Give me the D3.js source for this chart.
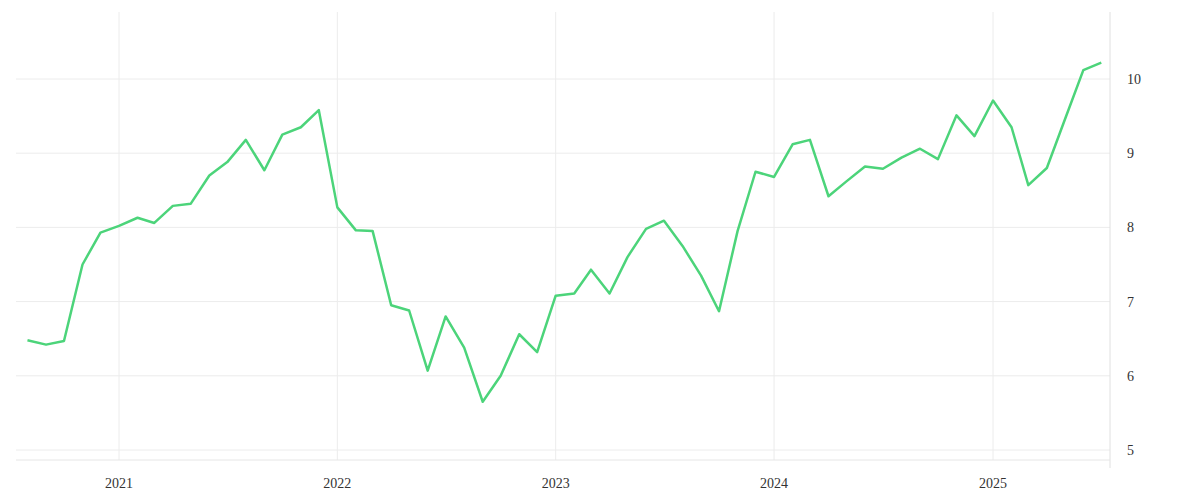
<!DOCTYPE html><html><head><meta charset="utf-8">
<script src="https://cdn.jsdelivr.net/npm/d3@7"></script>
<style>body{margin:0;background:#fff}svg{display:block}</style></head><body>
<svg id="c" width="1200" height="500"></svg>
<script>
const startMonth = "2020-08";
const values = [6.48,6.42,6.47,7.5,7.93,8.02,8.13,8.06,8.29,8.32,8.7,8.88,9.18,8.77,9.25,9.35,9.58,8.27,7.96,7.95,6.95,6.88,6.07,6.8,6.38,5.65,6.0,6.56,6.32,7.08,7.11,7.43,7.11,7.6,7.98,8.09,7.75,7.35,6.87,7.95,8.75,8.68,9.12,9.18,8.42,8.62,8.82,8.79,8.94,9.06,8.92,9.51,9.23,9.71,9.35,8.57,8.8,9.45,10.12,10.22];
const yTicks = [5,6,7,8,9,10];
const xTickYears = [2021,2022,2023,2024,2025];

const svg = d3.select("#c");
const dates = values.map((v,i)=>new Date(2020,7+i,1));
const x = d3.scaleTime().domain([new Date(2021,0,1),new Date(2025,0,1)]).range([119,993]);
const y = d3.scaleLinear().domain([5,10]).range([450,79]);
const plotTop=12, plotBottom=460, axisX=1110;
const g = svg.append("g");
g.selectAll(".hg").data(yTicks).join("line").attr("x1",16).attr("x2",axisX).attr("y1",d=>y(d)).attr("y2",d=>y(d)).attr("stroke","#ececec");
g.selectAll(".vg").data(xTickYears).join("line").attr("x1",d=>x(new Date(d,0,1))).attr("x2",d=>x(new Date(d,0,1))).attr("y1",plotTop).attr("y2",plotBottom).attr("stroke","#ececec");
g.append("line").attr("x1",axisX).attr("x2",axisX).attr("y1",plotTop).attr("y2",468).attr("stroke","#e0e0e0");
g.append("line").attr("x1",16).attr("x2",axisX).attr("y1",plotBottom).attr("y2",plotBottom).attr("stroke","#e6e6e6");
g.selectAll(".yl").data(yTicks).join("text").attr("x",1127).attr("y",d=>y(d)+5).text(d=>d)
 .attr("font-family","Liberation Serif").attr("font-size",14).attr("fill","#333");
g.selectAll(".xl").data(xTickYears).join("text").attr("x",d=>x(new Date(d,0,1))).attr("y",488).attr("text-anchor","middle").text(d=>d)
 .attr("font-family","Liberation Serif").attr("font-size",14).attr("fill","#333");
g.append("path").datum(values).attr("fill","none").attr("stroke","#4cd47a").attr("stroke-width",2.5).attr("stroke-linejoin","round")
 .attr("d",d3.line().x((d,i)=>x(dates[i])).y(d=>y(d)));
</script></body></html>
